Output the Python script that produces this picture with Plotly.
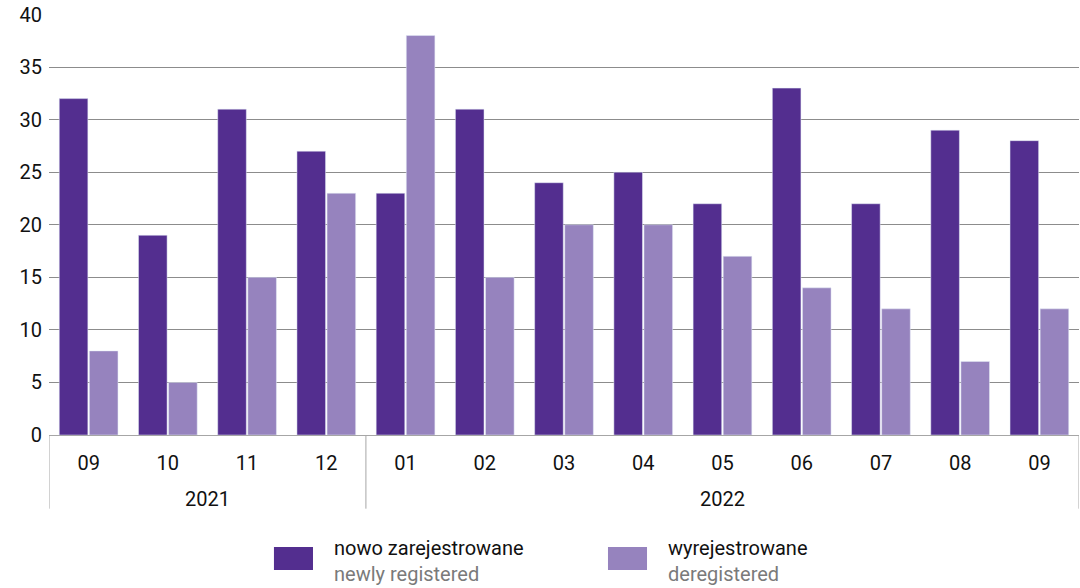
import plotly.graph_objects as go

years = ["2021"] * 4 + ["2022"] * 9
months = ["09", "10", "11", "12", "01", "02", "03", "04", "05", "06", "07", "08", "09"]
newly_registered = [32, 19, 31, 27, 23, 31, 24, 25, 22, 33, 22, 29, 28]
deregistered = [8, 5, 15, 23, 38, 15, 20, 20, 17, 14, 12, 7, 12]
y_ticks = [0, 5, 10, 15, 20, 25, 30, 35, 40]

DARK = "#532e8f"
LIGHT = "#9683be"
FONT = "Roboto, sans-serif"
AXIS_COL = "#a6a6a6"

idx = list(range(len(months)))

fig = go.Figure()
fig.add_trace(go.Bar(x=idx, y=newly_registered, marker_color=DARK,
                     name="nowo zarejestrowane", showlegend=False))
fig.add_trace(go.Bar(x=idx, y=deregistered, marker_color=LIGHT,
                     name="wyrejestrowane", showlegend=False))

fig.update_layout(
    width=1080, height=588,
    margin=dict(l=49, r=1, t=14, b=153),
    plot_bgcolor="white", paper_bgcolor="white",
    barmode="group", bargap=0.24, bargroupgap=0.05,
    font=dict(family=FONT, size=20, color="#111"),
)
fig.update_yaxes(range=[0, 40.05], tickvals=y_ticks, showgrid=True, gridcolor="#8c8c8c",
                 gridwidth=1, zeroline=False, showline=False, ticks="",
                 tickfont=dict(size=20), ticklabelstandoff=6)
fig.update_xaxes(range=[-0.5, len(months) - 0.5], tickvals=idx, ticktext=months,
                 showline=True, linecolor=AXIS_COL, linewidth=1, showgrid=False,
                 ticks="", tickfont=dict(size=20), ticklabelstandoff=10,
                 zeroline=False)

# Year group labels and dividers (derived from the years array)
groups = []
for i, yv in enumerate(years):
    if not groups or groups[-1][0] != yv:
        groups.append([yv, i, i])
    else:
        groups[-1][2] = i
for yv, s, e in groups:
    fig.add_annotation(xref="x", yref="paper", x=(s + e) / 2, y=-0.152,
                       text=yv, showarrow=False, yanchor="middle",
                       font=dict(size=20, family=FONT, color="#111"))
bounds = [groups[0][1] - 0.5] + [g[2] + 0.5 for g in groups]
for b in bounds:
    fig.add_shape(type="line", xref="x", yref="paper", x0=b, x1=b, y0=0, y1=-0.175,
                  line=dict(color=AXIS_COL, width=1))

# Custom two-line legend
legend_items = [
    (0.2184, DARK, "nowo zarejestrowane", "newly registered"),
    (0.5427, LIGHT, "wyrejestrowane", "deregistered"),
]
for x0, col, pl, en in legend_items:
    fig.add_shape(type="rect", xref="paper", yref="paper",
                  x0=x0, x1=x0 + 0.0379, y0=-0.3207, y1=-0.266,
                  fillcolor=col, line_width=0)
    fig.add_annotation(xref="paper", yref="paper", x=x0 + 0.0564, y=-0.2684,
                       xanchor="left", yanchor="middle", showarrow=False,
                       text=pl, font=dict(size=20, family=FONT, color="#111"))
    fig.add_annotation(xref="paper", yref="paper", x=x0 + 0.0564, y=-0.3302,
                       xanchor="left", yanchor="middle", showarrow=False,
                       text=en, font=dict(size=20, family=FONT, color="#7a7a7a"))

fig.write_html("out.html", config={"displayModeBar": False},
               post_script="document.body.style.margin='0';")
